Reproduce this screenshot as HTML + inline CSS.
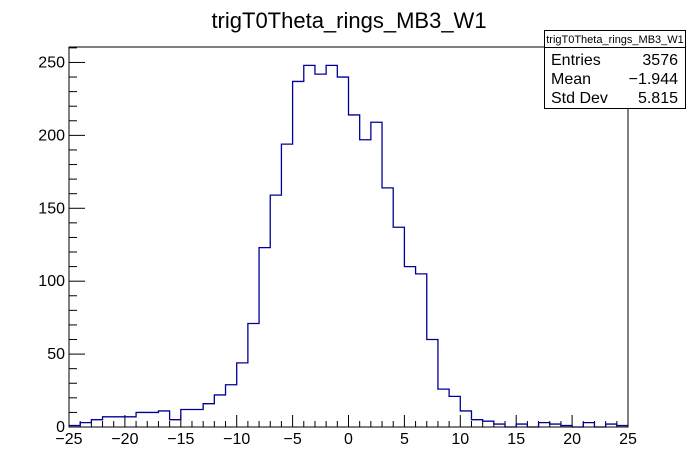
<!DOCTYPE html>
<html><head><meta charset="utf-8"><style>
body{margin:0;background:#fff;}
svg{display:block;font-family:"Liberation Sans",sans-serif;}
</style></head><body>
<svg id="c" width="698" height="476" viewBox="0 0 698 476">
<rect width="698" height="476" fill="#fff"/>
<text x="349" y="28" font-size="22" text-anchor="middle">trigT0Theta_rings_MB3_W1</text>
<g id="axes"></g>
<path id="hist" fill="none" stroke="#000099" stroke-width="1.3"/>
<rect x="69" y="47" width="559" height="380" fill="none" stroke="#000" stroke-width="1"/>
<g>
<rect x="544.5" y="30.5" width="141" height="78" fill="#fff" stroke="#000"/>
<line x1="544.5" y1="47.5" x2="685.5" y2="47.5" stroke="#000"/>
<text x="615" y="43" font-size="11" text-anchor="middle">trigT0Theta_rings_MB3_W1</text>
<text x="551" y="65" font-size="16">Entries</text><text x="678" y="65" font-size="16" text-anchor="end">3576</text>
<text x="551" y="84" font-size="16">Mean</text><text x="678" y="84" font-size="16" text-anchor="end">−1.944</text>
<text x="551" y="103" font-size="16">Std Dev</text><text x="678" y="103" font-size="16" text-anchor="end">5.815</text>
</g>
</svg>
<script>
const binEdgesMin = -25;
const binWidth = 1;
const counts = [1,3,5,7,7,7,10,10,11,5,12,12,16,22,29,44,71,123,159,194,237,248,242,248,240,214,197,209,164,137,110,105,60,26,21,11,5,4,2,0,2,0,3,2,1,0,3,0,2,1];
const xTicks = [-25,-20,-15,-10,-5,0,5,10,15,20,25];
const yTicks = [0,50,100,150,200,250];
const X0=69,X1=628,Y0=427,Y1=47,xmin=-25,xmax=25,ymax=260.6;
const sx=v=>X0+(v-xmin)/(xmax-xmin)*(X1-X0);
const sy=v=>Y0-v/ymax*(Y0-Y1);
let d='';
counts.forEach((c,i)=>{const a=sx(binEdgesMin+i*binWidth),b=sx(binEdgesMin+(i+1)*binWidth);
 d+=(i===0?'M'+a+','+sy(c):'L'+a+','+sy(c))+' L'+b+','+sy(c)+' ';});
document.getElementById('hist').setAttribute('d',d);
const ns='http://www.w3.org/2000/svg',g=document.getElementById('axes');
function ln(x1,y1,x2,y2){const l=document.createElementNS(ns,'line');l.setAttribute('x1',x1);l.setAttribute('y1',y1);l.setAttribute('x2',x2);l.setAttribute('y2',y2);l.setAttribute('stroke','#000');g.appendChild(l);return l;}
function tx(x,y,s,anchor){const t=document.createElementNS(ns,'text');t.setAttribute('x',x);t.setAttribute('y',y);t.setAttribute('font-size','16');t.setAttribute('text-anchor',anchor);t.textContent=s;g.appendChild(t);return t;}
for(let v=-25;v<=25;v++){const x=sx(v),major=v%5===0;const l=ln(x,Y0,x,Y0-(major?12:6));
 
 }
xTicks.forEach(v=>{const t=tx(sx(v),444,String(v).replace('-','−'),'middle');
 
 });
for(let v=0;v<=260;v+=10){const y=sy(v),major=v%50===0;const l=ln(X0,y,X0+(major?16:8),y);
 
 }
yTicks.forEach(v=>{const t=tx(X0-4,sy(v)+5,String(v),'end');
 
 });
</script>
</body></html>
